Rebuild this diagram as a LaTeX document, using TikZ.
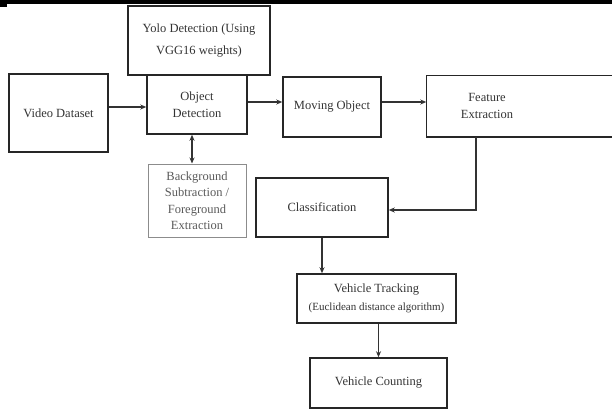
\documentclass[tikz,border=0pt]{standalone}
\usepackage{fontspec}
\setmainfont{Liberation Serif}
\usetikzlibrary{arrows.meta}
\begin{document}
\begin{tikzpicture}[x=1pt,y=-1pt,
    boxline/.style={draw=black!85,line width=1.5pt},
    box/.style={boxline,text=black!80,align=center,
      font=\fontsize{12.5}{16.5}\selectfont,inner sep=2pt},
    graybox/.style={box,draw=black!45,line width=1pt,text=black!65},
    arr/.style={draw=black!80,line width=1.2pt,-{Stealth[length=6pt,width=5pt]}}]
  \useasboundingbox (0,0) rectangle (612,410);
  \clip (0,0) rectangle (612,410);
  \fill[black] (0,0) rectangle (612,3.5);
  \fill[black] (0,3.5) rectangle (7,7);
  \draw
    (199,40.5) node[box,minimum width=142pt,minimum height=69pt] (yolo) {Yolo Detection (Using\\[5pt]VGG16 weights)}
    (58.5,113) node[box,minimum width=99pt,minimum height=78pt] (video) {Video Dataset}
    (197,104.5) node[box,minimum width=100pt,minimum height=59pt] (objdet) {Object\\Detection}
    (332,107) node[box,minimum width=98pt,minimum height=60pt] (moving) {Moving Object}
    (487,106) node[box,draw=none,minimum width=120pt,minimum height=60pt] (feature) {Feature\\Extraction}
    (197,200.5) node[graybox,minimum width=98pt,minimum height=73pt] (backgr) {Background\\Subtraction /\\Foreground\\Extraction}
    (322,207.5) node[box,minimum width=132pt,minimum height=59pt] (classif) {Classification}
    (376.5,298.5) node[box,minimum width=159pt,minimum height=49pt] (track) {Vehicle Tracking\\[2pt]{\fontsize{11}{13}\selectfont(Euclidean distance algorithm)}}
    (378.5,383) node[box,minimum width=137pt,minimum height=50pt] (count) {Vehicle Counting};
  \draw[boxline] (feature.south west) rectangle ([xshift=80pt]feature.north east);
  \begin{scope}[arr]
    \draw (video.east |- 0,107) -- (objdet.west |- 0,107);
    \draw (objdet.east |- 0,102) -- (moving.west |- 0,102);
    \draw (moving.east |- 0,102) -- (feature.west |- 0,102);
    \draw[{Stealth[length=6pt,width=5pt]}-{Stealth[length=6pt,width=5pt]}] ([xshift=-5pt]objdet.south) -- ([xshift=-5pt]backgr.north);
    \draw ([xshift=-11pt]feature.south) |- ([yshift=-2.5pt]classif.east);
    \draw (classif.south) -- (classif.south |- track.north);
    \draw (track.south -| count) -- (count);
  \end{scope}
\end{tikzpicture}
\end{document}
